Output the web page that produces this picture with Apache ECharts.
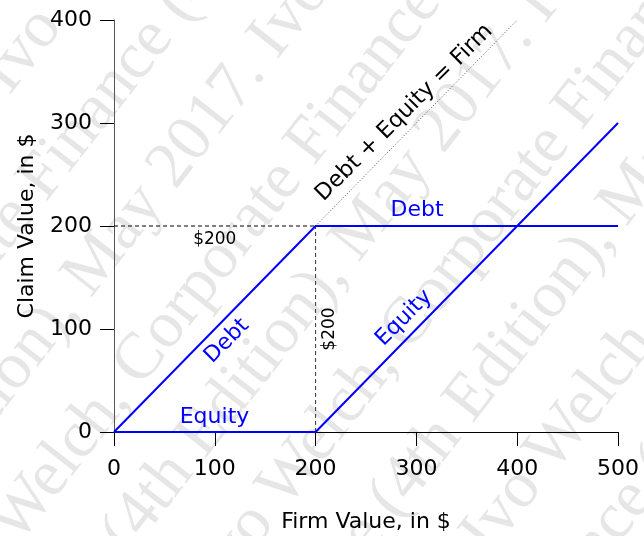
<!DOCTYPE html>
<html><head><meta charset="utf-8">
<script src="https://cdn.jsdelivr.net/npm/echarts@6/dist/echarts.min.js"></script>
<style>html,body{margin:0;padding:0;background:#fff}#c{width:644px;height:536px}</style>
</head><body><div id="c"></div>
<script>
// ---- data ----
const firmValues   = [0, 200, 500];
const debtValues   = [0, 200, 200];
const equityValues = [0, 0, 300];
const firmLineX    = [200, 400];
const firmLineY    = [200, 400];
const faceValue    = 200;
const xTickValues  = [0, 100, 200, 300, 400, 500];
const yTickValues  = [0, 100, 200, 300, 400];
const watermarkText = 'Ivo Welch, Corporate Finance (4th Edition), May 2017. ';

// ---- annotations (data-space anchors) ----
const annotations = [
  {text: '$200', at: [100, 187], rotate: 0, color: '#000', size: 17},
  {text: '$200', at: [214, 100], rotate: 90, color: '#000', size: 17},
  {text: 'Debt', at: [300.6, 215.5], rotate: 0, color: '#0000ff', size: 22},
  {text: 'Equity', at: [99.7, 14.6], rotate: 0, color: '#0000ff', size: 22},
  {text: 'Debt', at: [112, 88.3], rotate: 45, color: '#0000ff', size: 22},
  {text: 'Equity', at: [287.7, 110.7], rotate: 45, color: '#0000ff', size: 22},
  {text: 'Debt + Equity = Firm', at: [288, 310], rotate: 45, color: '#000', size: 22.5}
];

const zip = (xs, ys) => xs.map((x, i) => [x, ys[i]]);
const FONT = 'DejaVu Sans';

// ---- watermark ----
const wmFont = '66px "Liberation Serif"';
const wmAngle = 52 * Math.PI / 180;
const mctx = document.createElement('canvas').getContext('2d');
mctx.font = wmFont;
const P = mctx.measureText(watermarkText).width;
const wmChildren = [];
for (let k = -1; k < 11; k++) {
  const v = 49 + 94.5 * k;
  let u = -70 - 646 * k;
  u = ((u % P) + P) % P - P;
  wmChildren.push({
    type: 'text', x: u, y: v,
    style: {text: watermarkText + watermarkText + watermarkText, font: wmFont, fill: '#e6e6e6',
            align: 'left', verticalAlign: 'middle', textAlign: 'left', textVerticalAlign: 'middle'}
  });
}

const chart = echarts.init(document.getElementById('c'), null, {renderer: 'canvas'});
const lineBase = {type: 'line', symbol: 'none', animation: false, clip: false, silent: true};

chart.setOption({
  animation: false,
  backgroundColor: '#fff',
  graphic: [{type: 'group', x: 0, y: 0, rotation: wmAngle, silent: true, z: -10, children: wmChildren}],
  grid: {left: 114, right: 26, top: 20, bottom: 104, containLabel: false, outerBoundsMode: 'none'},
  xAxis: {
    type: 'value', min: 0, max: 500, interval: 100,
    name: 'Firm Value, in $', nameLocation: 'middle', nameGap: 79,
    nameTextStyle: {fontFamily: FONT, fontSize: 22, color: '#000'},
    axisLine: {show: true, lineStyle: {color: '#000', width: 1}},
    axisTick: {show: true, inside: false, length: 14, lineStyle: {color: '#000'}},
    axisLabel: {fontFamily: FONT, fontSize: 22, color: '#000', margin: 26},
    splitLine: {show: false}
  },
  yAxis: {
    type: 'value', min: 0, max: 400, interval: 100,
    name: 'Claim Value, in $', nameLocation: 'middle', nameGap: 76, nameRotate: 90,
    nameTextStyle: {fontFamily: FONT, fontSize: 22, color: '#000'},
    axisLine: {show: true, lineStyle: {color: '#555', width: 1}},
    axisTick: {show: true, inside: false, length: 14, lineStyle: {color: '#000'}},
    axisLabel: {fontFamily: FONT, fontSize: 22, color: '#000', margin: 22},
    splitLine: {show: false}
  },
  series: [
    Object.assign({}, lineBase, {name: 'guideH', data: [[0, faceValue], [faceValue, faceValue]],
      lineStyle: {color: '#000', width: 1, type: [4, 3]}}),
    Object.assign({}, lineBase, {name: 'guideV', data: [[faceValue, 0], [faceValue, faceValue]],
      lineStyle: {color: '#333', width: 1, type: [4, 3]}}),
    Object.assign({}, lineBase, {name: 'Firm', data: zip(firmLineX, firmLineY),
      lineStyle: {color: '#555', width: 1, type: [1, 2]}}),
    Object.assign({}, lineBase, {name: 'Debt', data: zip(firmValues, debtValues),
      lineStyle: {color: '#0000ff', width: 2}}),
    Object.assign({}, lineBase, {name: 'Equity', data: zip(firmValues, equityValues),
      lineStyle: {color: '#0000ff', width: 2}}),
    {
      type: 'scatter', symbolSize: 0, animation: false, silent: true,
      itemStyle: {opacity: 1, color: 'transparent'},
      data: annotations.map(a => ({
        value: a.at,
        label: {show: true, position: 'inside', formatter: a.text, rotate: a.rotate, opacity: 1,
                color: a.color, fontSize: a.size, fontFamily: FONT, align: 'center', verticalAlign: 'middle',
                textBorderWidth: 0, textShadowBlur: 0}
      }))
    }
  ]
});
</script>
</body></html>
